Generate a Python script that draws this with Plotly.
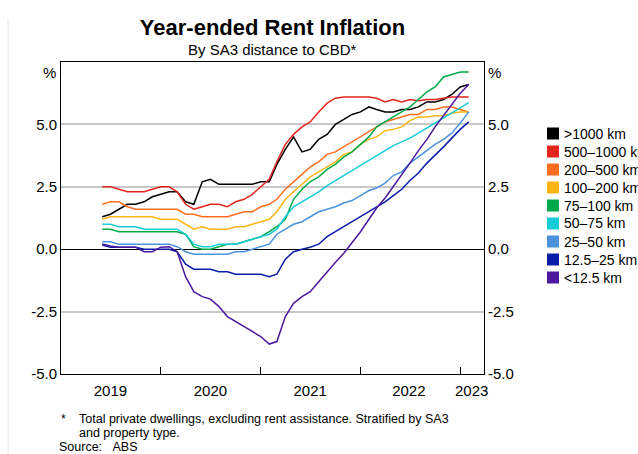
import plotly.graph_objects as go
import pandas as pd

# ---------------- data ----------------
dates = pd.date_range("2019-06-01", periods=45, freq="MS")

series_names = [">1000 km", "500–1000 km", "200–500 km", "100–200 km", "75–100 km",
                "50–75 km", "25–50 km", "12.5–25 km", "<12.5 km"]

gt1000 = [1.3, 1.4, 1.6, 1.8, 1.8, 1.9, 2.1, 2.2, 2.3, 2.3,
          1.9, 1.8, 2.7, 2.8, 2.6, 2.6, 2.6, 2.6, 2.6, 2.7,
          2.7, 3.4, 4.0, 4.5, 3.9, 4.0, 4.4, 4.6, 5.0, 5.2,
          5.4, 5.5, 5.7, 5.6, 5.5, 5.5, 5.6, 5.6, 5.7, 5.9,
          5.9, 6.0, 6.2, 6.5, 6.6]
km500_1000 = [2.5, 2.5, 2.4, 2.3, 2.3, 2.3, 2.4, 2.5, 2.5, 2.3,
              1.8, 1.6, 1.7, 1.8, 1.8, 1.7, 1.9, 2.0, 2.2, 2.5,
              2.8, 3.5, 4.2, 4.6, 4.9, 5.1, 5.5, 5.85, 6.05, 6.1,
              6.1, 6.1, 6.1, 6.05, 5.9, 6.0, 5.9, 6.0, 5.95, 6.0,
              6.0, 6.05, 6.1, 6.1, 6.1]
km200_500 = [1.8, 1.9, 1.9, 1.7, 1.6, 1.6, 1.6, 1.6, 1.6, 1.6,
             1.4, 1.4, 1.3, 1.3, 1.3, 1.3, 1.4, 1.5, 1.5, 1.7,
             1.8, 2.0, 2.4, 2.7, 3.0, 3.3, 3.5, 3.8, 3.9, 4.1,
             4.3, 4.5, 4.7, 4.9, 5.1, 5.2, 5.3, 5.4, 5.4, 5.6,
             5.6, 5.7, 5.7, 5.6, 5.5]
km100_200 = [1.2, 1.3, 1.3, 1.3, 1.3, 1.3, 1.3, 1.2, 1.2, 1.2,
             1.0, 0.8, 0.9, 0.8, 0.8, 0.8, 0.9, 0.9, 1.0, 1.1,
             1.2, 1.5, 2.0, 2.3, 2.6, 2.9, 3.1, 3.3, 3.5, 3.8,
             3.9, 4.2, 4.4, 4.5, 4.75, 4.8, 4.9, 5.15, 5.3, 5.3,
             5.35, 5.35, 5.45, 5.5, 5.5]
km75_100 = [0.8, 0.8, 0.7, 0.7, 0.7, 0.7, 0.7, 0.7, 0.7, 0.7,
            0.6, 0.1, 0.0, 0.0, 0.1, 0.2, 0.2, 0.3, 0.4, 0.5,
            0.7, 0.9, 1.2, 2.0, 2.4, 2.7, 2.9, 3.2, 3.4, 3.7,
            3.9, 4.2, 4.5, 4.9, 5.1, 5.3, 5.5, 5.7, 6.0, 6.3,
            6.5, 6.9, 7.0, 7.1, 7.1]
km50_75 = [1.0, 1.0, 0.9, 0.9, 0.9, 0.8, 0.8, 0.8, 0.8, 0.8,
           0.6, 0.2, 0.1, 0.1, 0.2, 0.2, 0.2, 0.3, 0.4, 0.5,
           0.6, 0.8, 1.3, 1.7, 1.9, 2.1, 2.3, 2.55, 2.75, 2.95,
           3.15, 3.35, 3.55, 3.75, 3.95, 4.15, 4.3, 4.45, 4.65, 4.85,
           5.05, 5.25, 5.45, 5.65, 5.87]
km25_50 = [0.3, 0.3, 0.2, 0.2, 0.2, 0.2, 0.2, 0.2, 0.2, 0.1,
           -0.1, -0.2, -0.2, -0.2, -0.2, -0.2, -0.1, -0.1, 0.0, 0.1,
           0.2, 0.6, 0.8, 1.0, 1.1, 1.3, 1.5, 1.6, 1.7, 1.85,
           1.95, 2.15, 2.35, 2.45, 2.65, 2.95, 3.1, 3.45, 3.7, 3.95,
           4.2, 4.4, 4.65, 5.05, 5.5]
km12_25 = [0.17, 0.08, 0.08, 0.08, 0.08, 0.0, 0.0, 0.0, 0.0, -0.1,
           -0.6, -0.8, -0.8, -0.8, -0.9, -0.9, -1.0, -1.0, -1.0, -1.0,
           -1.1, -1.0, -0.4, -0.1, 0.0, 0.08, 0.2, 0.5, 0.7, 0.9,
           1.1, 1.3, 1.5, 1.7, 1.9, 2.15, 2.4, 2.75, 3.05, 3.45,
           3.75, 4.1, 4.45, 4.8, 5.1]
lt12 = [0.21, 0.13, 0.08, 0.08, 0.08, -0.1, -0.1, 0.08, 0.1, -0.1,
        -1.1, -1.7, -1.9, -2.0, -2.3, -2.7, -2.9, -3.1, -3.3, -3.5,
        -3.8, -3.7, -2.7, -2.17, -1.9, -1.7, -1.3, -0.9, -0.53, -0.16,
        0.24, 0.7, 1.2, 1.65, 2.05, 2.5, 2.95, 3.45, 3.95, 4.4,
        4.9, 5.35, 5.8, 6.25, 6.6]

all_series = [gt1000, km500_1000, km200_500, km100_200, km75_100,
              km50_75, km25_50, km12_25, lt12]

colors = ["#000000", "#E2261E", "#FF6D21", "#FDB515", "#00AA4A",
          "#17CCD6", "#4B92DB", "#0A1EA8", "#4B189E"]

y_tickvals = [-5, -2.5, 0, 2.5, 5]
y_ticktext = ["-5.0", "-2.5", "0.0", "2.5", "5.0"]
year_ticks = ["2020-01-01", "2021-01-01", "2022-01-01", "2023-01-01"]
year_label_pos = ["2019-07-01", "2020-07-01", "2021-07-01", "2022-06-27", "2023-02-12"]
year_labels = ["2019", "2020", "2021", "2022", "2023"]

FONT = "Liberation Sans, Arial, Helvetica, sans-serif"

# plot-area geometry in pixels (figure 638 x 454)
L, R, T, B = 61, 484, 62, 374
W, H = R - L, B - T


def px(xp):
    return (xp - L) / W


def py(yp):
    return (B - yp) / H


fig = go.Figure()

for name, vals, col in zip(series_names, all_series, colors):
    fig.add_trace(go.Scatter(x=dates, y=vals, mode="lines", name=name,
                             line=dict(color=col, width=1.5),
                             showlegend=False))

# helper trace for the overlay axes (right y labels, centred year labels)
fig.add_trace(go.Scatter(x=[None], y=[None], xaxis="x2", yaxis="y2",
                         showlegend=False, hoverinfo="skip"))

x_range = ["2019-01-01", "2023-03-29"]
y_range = [-5, 7.5]

fig.update_layout(
    width=638, height=454,
    margin=dict(l=L, r=638 - R, t=T, b=454 - B, autoexpand=False),
    paper_bgcolor="white", plot_bgcolor="white",
    font=dict(family=FONT, size=15, color="black"),
    showlegend=False,
    title=dict(text="<b>Year-ended Rent Inflation</b>", x=0.5, xref="paper",
               y=1 - 27 / 454, yref="container", yanchor="middle",
               font=dict(family=FONT, size=22, color="black")),
    xaxis=dict(type="date", range=x_range, tickvals=year_ticks,
               showticklabels=False, ticks="inside", ticklen=7, tickcolor="black",
               showline=True, linecolor="black", linewidth=1, mirror=True,
               showgrid=False, zeroline=False),
    xaxis2=dict(type="date", range=x_range, overlaying="x", side="bottom",
                tickvals=year_label_pos, ticktext=year_labels,
                ticks="outside", ticklen=3, tickcolor="rgba(0,0,0,0)",
                showline=False, showgrid=False, zeroline=False,
                tickfont=dict(size=15, family=FONT)),
    yaxis=dict(range=y_range, tickvals=y_tickvals, ticktext=y_ticktext,
               ticks="", showline=True, linecolor="black", linewidth=1,
               showgrid=True, gridcolor="#C8C8C8", gridwidth=1.5,
               zeroline=True, zerolinecolor="black", zerolinewidth=1,
               tickfont=dict(size=15, family=FONT)),
    yaxis2=dict(range=y_range, overlaying="y", side="right",
                tickvals=y_tickvals, ticktext=y_ticktext, ticks="",
                showline=True, linecolor="black", linewidth=1,
                showgrid=False, zeroline=False,
                tickfont=dict(size=15, family=FONT)),
)

annotations = [
    dict(text="By SA3 distance to CBD*", x=0.5, y=py(50), xref="paper", yref="paper",
         showarrow=False, font=dict(size=15, family=FONT), xanchor="center", yanchor="middle"),
    dict(text="%", x=px(58), y=1, xref="paper", yref="paper", showarrow=False,
         xanchor="right", yanchor="top", font=dict(size=15, family=FONT)),
    dict(text="%", x=px(486), y=1, xref="paper", yref="paper", showarrow=False,
         xanchor="left", yanchor="top", font=dict(size=15, family=FONT)),
    dict(text="*", x=px(59), y=py(419), xref="paper", yref="paper",
         showarrow=False, xanchor="left", yanchor="middle", font=dict(size=12.5, family=FONT)),
    dict(text="Total private dwellings, excluding rent assistance. Stratified by SA3",
         x=px(77), y=py(419), xref="paper", yref="paper",
         showarrow=False, xanchor="left", yanchor="middle", font=dict(size=12.5, family=FONT)),
    dict(text="and property type.",
         x=px(77), y=py(433), xref="paper", yref="paper",
         showarrow=False, xanchor="left", yanchor="middle", font=dict(size=12.5, family=FONT)),
    dict(text="Source:\u00a0\u00a0\u00a0ABS", x=px(57), y=py(447), xref="paper", yref="paper",
         showarrow=False, xanchor="left", yanchor="middle", font=dict(size=12.5, family=FONT)),
]

shapes = [dict(type="line", xref="paper", yref="paper",
               x0=px(8), x1=px(8), y0=py(18), y1=py(454),
               line=dict(color="#E4E4E4", width=1))]

# legend (swatch + label for every series)
for k, (name, col) in enumerate(zip(series_names, colors)):
    yc = 133.5 + 18.0 * k
    shapes.append(dict(type="rect", xref="paper", yref="paper",
                       x0=px(547), x1=px(559), y0=py(yc - 6), y1=py(yc + 6),
                       fillcolor=col, line=dict(width=0)))
    annotations.append(dict(text=name, x=px(562), y=py(yc), xref="paper", yref="paper",
                            showarrow=False, xanchor="left", yanchor="middle",
                            font=dict(size=14, family=FONT)))

fig.update_layout(annotations=annotations, shapes=shapes)

fig.write_html("out.html", config={"displayModeBar": False},
               post_script="document.body.style.margin='0px';")
